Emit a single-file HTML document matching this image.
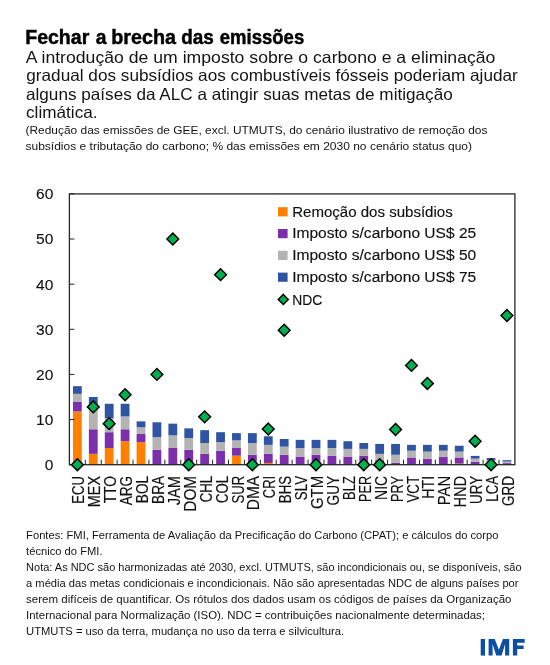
<!DOCTYPE html>
<html><head><meta charset="utf-8"><style>
html,body{margin:0;padding:0;background:#fff;width:550px;height:665px;overflow:hidden}
svg{display:block;font-family:"Liberation Sans", sans-serif;will-change:transform}
</style></head><body>
<svg width="550" height="665" viewBox="0 0 550 665">
<rect width="550" height="665" fill="#fff"/>
<rect x="72.96" y="411.44" width="8.8" height="53.26" fill="#FF8000"/>
<rect x="72.96" y="401.51" width="8.8" height="9.93" fill="#7B2FAA"/>
<rect x="72.96" y="393.84" width="8.8" height="7.67" fill="#B3B3B3"/>
<rect x="72.96" y="386.17" width="8.8" height="7.67" fill="#2F55A2"/>
<rect x="88.87" y="453.87" width="8.8" height="10.83" fill="#FF8000"/>
<rect x="88.87" y="429.27" width="8.8" height="24.60" fill="#7B2FAA"/>
<rect x="88.87" y="405.12" width="8.8" height="24.15" fill="#B3B3B3"/>
<rect x="88.87" y="397.00" width="8.8" height="8.12" fill="#2F55A2"/>
<rect x="104.78" y="448.00" width="8.8" height="16.70" fill="#FF8000"/>
<rect x="104.78" y="432.20" width="8.8" height="15.80" fill="#7B2FAA"/>
<rect x="104.78" y="418.21" width="8.8" height="13.99" fill="#B3B3B3"/>
<rect x="104.78" y="403.77" width="8.8" height="14.44" fill="#2F55A2"/>
<rect x="120.69" y="441.23" width="8.8" height="23.47" fill="#FF8000"/>
<rect x="120.69" y="429.27" width="8.8" height="11.96" fill="#7B2FAA"/>
<rect x="120.69" y="416.41" width="8.8" height="12.86" fill="#B3B3B3"/>
<rect x="120.69" y="403.77" width="8.8" height="12.64" fill="#2F55A2"/>
<rect x="136.60" y="442.13" width="8.8" height="22.57" fill="#FF8000"/>
<rect x="136.60" y="434.01" width="8.8" height="8.12" fill="#7B2FAA"/>
<rect x="136.60" y="427.24" width="8.8" height="6.77" fill="#B3B3B3"/>
<rect x="136.60" y="421.37" width="8.8" height="5.87" fill="#2F55A2"/>
<rect x="152.51" y="449.81" width="8.8" height="14.89" fill="#7B2FAA"/>
<rect x="152.51" y="437.17" width="8.8" height="12.64" fill="#B3B3B3"/>
<rect x="152.51" y="422.27" width="8.8" height="14.89" fill="#2F55A2"/>
<rect x="168.42" y="448.00" width="8.8" height="16.70" fill="#7B2FAA"/>
<rect x="168.42" y="435.36" width="8.8" height="12.64" fill="#B3B3B3"/>
<rect x="168.42" y="423.63" width="8.8" height="11.73" fill="#2F55A2"/>
<rect x="184.33" y="449.81" width="8.8" height="14.89" fill="#7B2FAA"/>
<rect x="184.33" y="438.07" width="8.8" height="11.73" fill="#B3B3B3"/>
<rect x="184.33" y="428.37" width="8.8" height="9.70" fill="#2F55A2"/>
<rect x="200.24" y="453.87" width="8.8" height="10.83" fill="#7B2FAA"/>
<rect x="200.24" y="443.04" width="8.8" height="10.83" fill="#B3B3B3"/>
<rect x="200.24" y="430.17" width="8.8" height="12.86" fill="#2F55A2"/>
<rect x="216.15" y="450.71" width="8.8" height="13.99" fill="#7B2FAA"/>
<rect x="216.15" y="442.13" width="8.8" height="8.58" fill="#B3B3B3"/>
<rect x="216.15" y="432.20" width="8.8" height="9.93" fill="#2F55A2"/>
<rect x="232.06" y="455.67" width="8.8" height="9.03" fill="#FF8000"/>
<rect x="232.06" y="448.00" width="8.8" height="7.67" fill="#7B2FAA"/>
<rect x="232.06" y="440.33" width="8.8" height="7.67" fill="#B3B3B3"/>
<rect x="232.06" y="433.11" width="8.8" height="7.22" fill="#2F55A2"/>
<rect x="247.97" y="454.77" width="8.8" height="9.93" fill="#7B2FAA"/>
<rect x="247.97" y="443.04" width="8.8" height="11.73" fill="#B3B3B3"/>
<rect x="247.97" y="433.11" width="8.8" height="9.93" fill="#2F55A2"/>
<rect x="263.88" y="462.89" width="8.8" height="1.81" fill="#FF8000"/>
<rect x="263.88" y="453.87" width="8.8" height="9.03" fill="#7B2FAA"/>
<rect x="263.88" y="444.84" width="8.8" height="9.03" fill="#B3B3B3"/>
<rect x="263.88" y="436.27" width="8.8" height="8.58" fill="#2F55A2"/>
<rect x="279.79" y="454.77" width="8.8" height="9.93" fill="#7B2FAA"/>
<rect x="279.79" y="446.65" width="8.8" height="8.12" fill="#B3B3B3"/>
<rect x="279.79" y="438.97" width="8.8" height="7.67" fill="#2F55A2"/>
<rect x="295.71" y="456.58" width="8.8" height="8.12" fill="#7B2FAA"/>
<rect x="295.71" y="448.00" width="8.8" height="8.58" fill="#B3B3B3"/>
<rect x="295.71" y="439.88" width="8.8" height="8.12" fill="#2F55A2"/>
<rect x="311.62" y="454.77" width="8.8" height="9.93" fill="#7B2FAA"/>
<rect x="311.62" y="448.00" width="8.8" height="6.77" fill="#B3B3B3"/>
<rect x="311.62" y="439.88" width="8.8" height="8.12" fill="#2F55A2"/>
<rect x="327.53" y="455.67" width="8.8" height="9.03" fill="#7B2FAA"/>
<rect x="327.53" y="448.00" width="8.8" height="7.67" fill="#B3B3B3"/>
<rect x="327.53" y="439.88" width="8.8" height="8.12" fill="#2F55A2"/>
<rect x="343.44" y="456.58" width="8.8" height="8.12" fill="#7B2FAA"/>
<rect x="343.44" y="448.90" width="8.8" height="7.67" fill="#B3B3B3"/>
<rect x="343.44" y="441.23" width="8.8" height="7.67" fill="#2F55A2"/>
<rect x="359.35" y="455.67" width="8.8" height="9.03" fill="#7B2FAA"/>
<rect x="359.35" y="448.90" width="8.8" height="6.77" fill="#B3B3B3"/>
<rect x="359.35" y="443.04" width="8.8" height="5.87" fill="#2F55A2"/>
<rect x="375.26" y="460.19" width="8.8" height="4.51" fill="#7B2FAA"/>
<rect x="375.26" y="453.87" width="8.8" height="6.32" fill="#B3B3B3"/>
<rect x="375.26" y="443.94" width="8.8" height="9.93" fill="#2F55A2"/>
<rect x="391.17" y="462.89" width="8.8" height="1.81" fill="#7B2FAA"/>
<rect x="391.17" y="454.77" width="8.8" height="8.12" fill="#B3B3B3"/>
<rect x="391.17" y="443.94" width="8.8" height="10.83" fill="#2F55A2"/>
<rect x="407.08" y="457.48" width="8.8" height="7.22" fill="#7B2FAA"/>
<rect x="407.08" y="450.71" width="8.8" height="6.77" fill="#B3B3B3"/>
<rect x="407.08" y="444.84" width="8.8" height="5.87" fill="#2F55A2"/>
<rect x="422.99" y="458.83" width="8.8" height="5.87" fill="#7B2FAA"/>
<rect x="422.99" y="451.61" width="8.8" height="7.22" fill="#B3B3B3"/>
<rect x="422.99" y="444.84" width="8.8" height="6.77" fill="#2F55A2"/>
<rect x="438.90" y="457.03" width="8.8" height="7.67" fill="#7B2FAA"/>
<rect x="438.90" y="450.71" width="8.8" height="6.32" fill="#B3B3B3"/>
<rect x="438.90" y="444.84" width="8.8" height="5.87" fill="#2F55A2"/>
<rect x="454.81" y="463.57" width="8.8" height="1.13" fill="#FF8000"/>
<rect x="454.81" y="457.48" width="8.8" height="6.09" fill="#7B2FAA"/>
<rect x="454.81" y="451.61" width="8.8" height="5.87" fill="#B3B3B3"/>
<rect x="454.81" y="445.74" width="8.8" height="5.87" fill="#2F55A2"/>
<rect x="470.72" y="461.77" width="8.8" height="2.93" fill="#7B2FAA"/>
<rect x="470.72" y="458.61" width="8.8" height="3.16" fill="#B3B3B3"/>
<rect x="470.72" y="455.90" width="8.8" height="2.71" fill="#2F55A2"/>
<rect x="486.63" y="463.12" width="8.8" height="1.58" fill="#7B2FAA"/>
<rect x="486.63" y="460.41" width="8.8" height="2.71" fill="#B3B3B3"/>
<rect x="486.63" y="458.02" width="8.8" height="2.39" fill="#2F55A2"/>
<rect x="502.54" y="463.12" width="8.8" height="1.58" fill="#7B2FAA"/>
<rect x="502.54" y="461.54" width="8.8" height="1.58" fill="#B3B3B3"/>
<rect x="502.54" y="460.19" width="8.8" height="1.35" fill="#2F55A2"/>
<rect x="69.4" y="193.9" width="445.50" height="270.80" fill="none" stroke="#262626" stroke-width="1.3"/>
<line x1="69.4" y1="464.70" x2="74.4" y2="464.70" stroke="#262626" stroke-width="1.0"/>
<text x="53.3" y="470.10" text-anchor="end" font-size="15.5" fill="#111" stroke="#111" stroke-width="0.12">0</text>
<line x1="69.4" y1="419.57" x2="74.4" y2="419.57" stroke="#262626" stroke-width="1.0"/>
<text x="53.3" y="424.97" text-anchor="end" font-size="15.5" fill="#111" stroke="#111" stroke-width="0.12">10</text>
<line x1="69.4" y1="374.43" x2="74.4" y2="374.43" stroke="#262626" stroke-width="1.0"/>
<text x="53.3" y="379.83" text-anchor="end" font-size="15.5" fill="#111" stroke="#111" stroke-width="0.12">20</text>
<line x1="69.4" y1="329.30" x2="74.4" y2="329.30" stroke="#262626" stroke-width="1.0"/>
<text x="53.3" y="334.70" text-anchor="end" font-size="15.5" fill="#111" stroke="#111" stroke-width="0.12">30</text>
<line x1="69.4" y1="284.17" x2="74.4" y2="284.17" stroke="#262626" stroke-width="1.0"/>
<text x="53.3" y="289.57" text-anchor="end" font-size="15.5" fill="#111" stroke="#111" stroke-width="0.12">40</text>
<line x1="69.4" y1="239.03" x2="74.4" y2="239.03" stroke="#262626" stroke-width="1.0"/>
<text x="53.3" y="244.43" text-anchor="end" font-size="15.5" fill="#111" stroke="#111" stroke-width="0.12">50</text>
<line x1="69.4" y1="193.90" x2="74.4" y2="193.90" stroke="#262626" stroke-width="1.0"/>
<text x="53.3" y="199.30" text-anchor="end" font-size="15.5" fill="#111" stroke="#111" stroke-width="0.12">60</text>
<line x1="85.31" y1="464.7" x2="85.31" y2="459.7" stroke="#262626" stroke-width="1.0"/>
<line x1="101.22" y1="464.7" x2="101.22" y2="459.7" stroke="#262626" stroke-width="1.0"/>
<line x1="117.13" y1="464.7" x2="117.13" y2="459.7" stroke="#262626" stroke-width="1.0"/>
<line x1="133.04" y1="464.7" x2="133.04" y2="459.7" stroke="#262626" stroke-width="1.0"/>
<line x1="148.95" y1="464.7" x2="148.95" y2="459.7" stroke="#262626" stroke-width="1.0"/>
<line x1="164.86" y1="464.7" x2="164.86" y2="459.7" stroke="#262626" stroke-width="1.0"/>
<line x1="180.78" y1="464.7" x2="180.78" y2="459.7" stroke="#262626" stroke-width="1.0"/>
<line x1="196.69" y1="464.7" x2="196.69" y2="459.7" stroke="#262626" stroke-width="1.0"/>
<line x1="212.60" y1="464.7" x2="212.60" y2="459.7" stroke="#262626" stroke-width="1.0"/>
<line x1="228.51" y1="464.7" x2="228.51" y2="459.7" stroke="#262626" stroke-width="1.0"/>
<line x1="244.42" y1="464.7" x2="244.42" y2="459.7" stroke="#262626" stroke-width="1.0"/>
<line x1="260.33" y1="464.7" x2="260.33" y2="459.7" stroke="#262626" stroke-width="1.0"/>
<line x1="276.24" y1="464.7" x2="276.24" y2="459.7" stroke="#262626" stroke-width="1.0"/>
<line x1="292.15" y1="464.7" x2="292.15" y2="459.7" stroke="#262626" stroke-width="1.0"/>
<line x1="308.06" y1="464.7" x2="308.06" y2="459.7" stroke="#262626" stroke-width="1.0"/>
<line x1="323.97" y1="464.7" x2="323.97" y2="459.7" stroke="#262626" stroke-width="1.0"/>
<line x1="339.88" y1="464.7" x2="339.88" y2="459.7" stroke="#262626" stroke-width="1.0"/>
<line x1="355.79" y1="464.7" x2="355.79" y2="459.7" stroke="#262626" stroke-width="1.0"/>
<line x1="371.70" y1="464.7" x2="371.70" y2="459.7" stroke="#262626" stroke-width="1.0"/>
<line x1="387.61" y1="464.7" x2="387.61" y2="459.7" stroke="#262626" stroke-width="1.0"/>
<line x1="403.52" y1="464.7" x2="403.52" y2="459.7" stroke="#262626" stroke-width="1.0"/>
<line x1="419.44" y1="464.7" x2="419.44" y2="459.7" stroke="#262626" stroke-width="1.0"/>
<line x1="435.35" y1="464.7" x2="435.35" y2="459.7" stroke="#262626" stroke-width="1.0"/>
<line x1="451.26" y1="464.7" x2="451.26" y2="459.7" stroke="#262626" stroke-width="1.0"/>
<line x1="467.17" y1="464.7" x2="467.17" y2="459.7" stroke="#262626" stroke-width="1.0"/>
<line x1="483.08" y1="464.7" x2="483.08" y2="459.7" stroke="#262626" stroke-width="1.0"/>
<line x1="498.99" y1="464.7" x2="498.99" y2="459.7" stroke="#262626" stroke-width="1.0"/>
<path d="M77.36 458.80L83.26 464.70L77.36 470.60L71.46 464.70Z" fill="#00B050" stroke="#000" stroke-width="1.45" stroke-linejoin="miter"/>
<path d="M93.27 401.03L99.17 406.93L93.27 412.83L87.37 406.93Z" fill="#00B050" stroke="#000" stroke-width="1.45" stroke-linejoin="miter"/>
<path d="M109.18 417.73L115.08 423.63L109.18 429.53L103.28 423.63Z" fill="#00B050" stroke="#000" stroke-width="1.45" stroke-linejoin="miter"/>
<path d="M125.09 388.84L130.99 394.74L125.09 400.64L119.19 394.74Z" fill="#00B050" stroke="#000" stroke-width="1.45" stroke-linejoin="miter"/>
<path d="M156.91 368.53L162.81 374.43L156.91 380.33L151.01 374.43Z" fill="#00B050" stroke="#000" stroke-width="1.45" stroke-linejoin="miter"/>
<path d="M172.82 233.13L178.72 239.03L172.82 244.93L166.92 239.03Z" fill="#00B050" stroke="#000" stroke-width="1.45" stroke-linejoin="miter"/>
<path d="M188.73 458.80L194.63 464.70L188.73 470.60L182.83 464.70Z" fill="#00B050" stroke="#000" stroke-width="1.45" stroke-linejoin="miter"/>
<path d="M204.64 410.96L210.54 416.86L204.64 422.76L198.74 416.86Z" fill="#00B050" stroke="#000" stroke-width="1.45" stroke-linejoin="miter"/>
<path d="M220.55 268.79L226.45 274.69L220.55 280.59L214.65 274.69Z" fill="#00B050" stroke="#000" stroke-width="1.45" stroke-linejoin="miter"/>
<path d="M252.37 458.80L258.27 464.70L252.37 470.60L246.47 464.70Z" fill="#00B050" stroke="#000" stroke-width="1.45" stroke-linejoin="miter"/>
<path d="M268.28 423.14L274.18 429.04L268.28 434.94L262.38 429.04Z" fill="#00B050" stroke="#000" stroke-width="1.45" stroke-linejoin="miter"/>
<path d="M284.19 324.30L290.09 330.20L284.19 336.10L278.29 330.20Z" fill="#00B050" stroke="#000" stroke-width="1.45" stroke-linejoin="miter"/>
<path d="M316.02 458.80L321.92 464.70L316.02 470.60L310.12 464.70Z" fill="#00B050" stroke="#000" stroke-width="1.45" stroke-linejoin="miter"/>
<path d="M363.75 458.80L369.65 464.70L363.75 470.60L357.85 464.70Z" fill="#00B050" stroke="#000" stroke-width="1.45" stroke-linejoin="miter"/>
<path d="M379.66 458.80L385.56 464.70L379.66 470.60L373.76 464.70Z" fill="#00B050" stroke="#000" stroke-width="1.45" stroke-linejoin="miter"/>
<path d="M395.57 423.60L401.47 429.50L395.57 435.40L389.67 429.50Z" fill="#00B050" stroke="#000" stroke-width="1.45" stroke-linejoin="miter"/>
<path d="M411.48 359.51L417.38 365.41L411.48 371.31L405.58 365.41Z" fill="#00B050" stroke="#000" stroke-width="1.45" stroke-linejoin="miter"/>
<path d="M427.39 377.56L433.29 383.46L427.39 389.36L421.49 383.46Z" fill="#00B050" stroke="#000" stroke-width="1.45" stroke-linejoin="miter"/>
<path d="M475.12 435.33L481.02 441.23L475.12 447.13L469.22 441.23Z" fill="#00B050" stroke="#000" stroke-width="1.45" stroke-linejoin="miter"/>
<path d="M491.03 458.80L496.93 464.70L491.03 470.60L485.13 464.70Z" fill="#00B050" stroke="#000" stroke-width="1.45" stroke-linejoin="miter"/>
<path d="M506.94 309.63L512.84 315.53L506.94 321.43L501.04 315.53Z" fill="#00B050" stroke="#000" stroke-width="1.45" stroke-linejoin="miter"/>
<text transform="translate(84.46,475.9) rotate(-90)" text-anchor="end" font-size="16" fill="#111" stroke="#111" stroke-width="0.15" textLength="27.94" lengthAdjust="spacingAndGlyphs">ECU</text>
<text transform="translate(100.37,475.9) rotate(-90)" text-anchor="end" font-size="16" fill="#111" stroke="#111" stroke-width="0.15" textLength="31.28" lengthAdjust="spacingAndGlyphs">MEX</text>
<text transform="translate(116.28,475.9) rotate(-90)" text-anchor="end" font-size="16" fill="#111" stroke="#111" stroke-width="0.15" textLength="27.48" lengthAdjust="spacingAndGlyphs">TTO</text>
<text transform="translate(132.19,475.9) rotate(-90)" text-anchor="end" font-size="16" fill="#111" stroke="#111" stroke-width="0.15" textLength="29.45" lengthAdjust="spacingAndGlyphs">ARG</text>
<text transform="translate(148.10,475.9) rotate(-90)" text-anchor="end" font-size="16" fill="#111" stroke="#111" stroke-width="0.15" textLength="27.32" lengthAdjust="spacingAndGlyphs">BOL</text>
<text transform="translate(164.01,475.9) rotate(-90)" text-anchor="end" font-size="16" fill="#111" stroke="#111" stroke-width="0.15" textLength="27.99" lengthAdjust="spacingAndGlyphs">BRA</text>
<text transform="translate(179.92,475.9) rotate(-90)" text-anchor="end" font-size="16" fill="#111" stroke="#111" stroke-width="0.15" textLength="29.45" lengthAdjust="spacingAndGlyphs">JAM</text>
<text transform="translate(195.83,475.9) rotate(-90)" text-anchor="end" font-size="16" fill="#111" stroke="#111" stroke-width="0.15" textLength="35.82" lengthAdjust="spacingAndGlyphs">DOM</text>
<text transform="translate(211.74,475.9) rotate(-90)" text-anchor="end" font-size="16" fill="#111" stroke="#111" stroke-width="0.15" textLength="26.48" lengthAdjust="spacingAndGlyphs">CHL</text>
<text transform="translate(227.65,475.9) rotate(-90)" text-anchor="end" font-size="16" fill="#111" stroke="#111" stroke-width="0.15" textLength="27.13" lengthAdjust="spacingAndGlyphs">COL</text>
<text transform="translate(243.56,475.9) rotate(-90)" text-anchor="end" font-size="16" fill="#111" stroke="#111" stroke-width="0.15" textLength="27.62" lengthAdjust="spacingAndGlyphs">SUR</text>
<text transform="translate(259.47,475.9) rotate(-90)" text-anchor="end" font-size="16" fill="#111" stroke="#111" stroke-width="0.15" textLength="34.42" lengthAdjust="spacingAndGlyphs">DMA</text>
<text transform="translate(275.38,475.9) rotate(-90)" text-anchor="end" font-size="16" fill="#111" stroke="#111" stroke-width="0.15" textLength="22.31" lengthAdjust="spacingAndGlyphs">CRI</text>
<text transform="translate(291.29,475.9) rotate(-90)" text-anchor="end" font-size="16" fill="#111" stroke="#111" stroke-width="0.15" textLength="27.32" lengthAdjust="spacingAndGlyphs">BHS</text>
<text transform="translate(307.21,475.9) rotate(-90)" text-anchor="end" font-size="16" fill="#111" stroke="#111" stroke-width="0.15" textLength="24.29" lengthAdjust="spacingAndGlyphs">SLV</text>
<text transform="translate(323.12,475.9) rotate(-90)" text-anchor="end" font-size="16" fill="#111" stroke="#111" stroke-width="0.15" textLength="33.15" lengthAdjust="spacingAndGlyphs">GTM</text>
<text transform="translate(339.03,475.9) rotate(-90)" text-anchor="end" font-size="16" fill="#111" stroke="#111" stroke-width="0.15" textLength="29.57" lengthAdjust="spacingAndGlyphs">GUY</text>
<text transform="translate(354.94,475.9) rotate(-90)" text-anchor="end" font-size="16" fill="#111" stroke="#111" stroke-width="0.15" textLength="24.06" lengthAdjust="spacingAndGlyphs">BLZ</text>
<text transform="translate(370.85,475.9) rotate(-90)" text-anchor="end" font-size="16" fill="#111" stroke="#111" stroke-width="0.15" textLength="26.01" lengthAdjust="spacingAndGlyphs">PER</text>
<text transform="translate(386.76,475.9) rotate(-90)" text-anchor="end" font-size="16" fill="#111" stroke="#111" stroke-width="0.15" textLength="24.04" lengthAdjust="spacingAndGlyphs">NIC</text>
<text transform="translate(402.67,475.9) rotate(-90)" text-anchor="end" font-size="16" fill="#111" stroke="#111" stroke-width="0.15" textLength="25.99" lengthAdjust="spacingAndGlyphs">PRY</text>
<text transform="translate(418.58,475.9) rotate(-90)" text-anchor="end" font-size="16" fill="#111" stroke="#111" stroke-width="0.15" textLength="26.66" lengthAdjust="spacingAndGlyphs">VCT</text>
<text transform="translate(434.49,475.9) rotate(-90)" text-anchor="end" font-size="16" fill="#111" stroke="#111" stroke-width="0.15" textLength="22.88" lengthAdjust="spacingAndGlyphs">HTI</text>
<text transform="translate(450.40,475.9) rotate(-90)" text-anchor="end" font-size="16" fill="#111" stroke="#111" stroke-width="0.15" textLength="29.27" lengthAdjust="spacingAndGlyphs">PAN</text>
<text transform="translate(466.31,475.9) rotate(-90)" text-anchor="end" font-size="16" fill="#111" stroke="#111" stroke-width="0.15" textLength="31.65" lengthAdjust="spacingAndGlyphs">HND</text>
<text transform="translate(482.22,475.9) rotate(-90)" text-anchor="end" font-size="16" fill="#111" stroke="#111" stroke-width="0.15" textLength="28.09" lengthAdjust="spacingAndGlyphs">URY</text>
<text transform="translate(498.13,475.9) rotate(-90)" text-anchor="end" font-size="16" fill="#111" stroke="#111" stroke-width="0.15" textLength="25.74" lengthAdjust="spacingAndGlyphs">LCA</text>
<text transform="translate(514.04,475.9) rotate(-90)" text-anchor="end" font-size="16" fill="#111" stroke="#111" stroke-width="0.15" textLength="30.06" lengthAdjust="spacingAndGlyphs">GRD</text>
<rect x="278" y="207.20" width="9.6" height="9.2" fill="#FF8000"/>
<text x="292.2" y="216.50" font-size="15.3" fill="#111" stroke="#111" stroke-width="0.15" textLength="160.5" lengthAdjust="spacingAndGlyphs">Remoção dos subsídios</text>
<rect x="278" y="229.00" width="9.6" height="9.2" fill="#7B2FAA"/>
<text x="292.2" y="238.30" font-size="15.3" fill="#111" stroke="#111" stroke-width="0.15" textLength="184.0" lengthAdjust="spacingAndGlyphs">Imposto s/carbono US$ 25</text>
<rect x="278" y="250.80" width="9.6" height="9.2" fill="#B3B3B3"/>
<text x="292.2" y="260.10" font-size="15.3" fill="#111" stroke="#111" stroke-width="0.15" textLength="184.0" lengthAdjust="spacingAndGlyphs">Imposto s/carbono US$ 50</text>
<rect x="278" y="272.60" width="9.6" height="9.2" fill="#2F55A2"/>
<text x="292.2" y="281.90" font-size="15.3" fill="#111" stroke="#111" stroke-width="0.15" textLength="184.0" lengthAdjust="spacingAndGlyphs">Imposto s/carbono US$ 75</text>
<path d="M283.30 294.40L288.30 299.40L283.30 304.40L278.30 299.40Z" fill="#00B050" stroke="#000" stroke-width="1.45" stroke-linejoin="miter"/>
<text x="292.2" y="304.5" font-size="15.3" fill="#111" stroke="#111" stroke-width="0.15" textLength="30.0" lengthAdjust="spacingAndGlyphs">NDC</text>
<text x="25.8" y="62.6" font-size="16.5" font-weight="normal" fill="#141414" textLength="469.6" lengthAdjust="spacingAndGlyphs">A introdução de um imposto sobre o carbono e a eliminação</text>
<text x="26.3" y="81.2" font-size="16.5" font-weight="normal" fill="#141414" textLength="491.5" lengthAdjust="spacingAndGlyphs">gradual dos subsídios aos combustíveis fósseis poderiam ajudar</text>
<text x="26.0" y="99.7" font-size="16.5" font-weight="normal" fill="#141414" textLength="426.7" lengthAdjust="spacingAndGlyphs">alguns países da ALC a atingir suas metas de mitigação</text>
<text x="26.0" y="118.3" font-size="16.5" font-weight="normal" fill="#141414" textLength="71.6" lengthAdjust="spacingAndGlyphs">climática.</text>
<text x="25.5" y="134.4" font-size="10.7" font-weight="normal" fill="#141414" textLength="461.9" lengthAdjust="spacingAndGlyphs">(Redução das emissões de GEE, excl. UTMUTS, do cenário ilustrativo de remoção dos</text>
<text x="25.5" y="150.3" font-size="10.7" font-weight="normal" fill="#141414" textLength="446.5" lengthAdjust="spacingAndGlyphs">subsídios e tributação do carbono; % das emissões em 2030 no cenário status quo)</text>
<text x="26.1" y="538.9" font-size="11" font-weight="normal" fill="#141414" textLength="472.4" lengthAdjust="spacingAndGlyphs">Fontes: FMI, Ferramenta de Avaliação da Precificação do Carbono (CPAT); e cálculos do corpo</text>
<text x="26.1" y="554.8" font-size="11" font-weight="normal" fill="#141414" textLength="76.4" lengthAdjust="spacingAndGlyphs">técnico do FMI.</text>
<text x="26.1" y="570.8" font-size="11" font-weight="normal" fill="#141414" textLength="495.4" lengthAdjust="spacingAndGlyphs">Nota: As NDC são harmonizadas até 2030, excl. UTMUTS, são incondicionais ou, se disponíveis, são</text>
<text x="26.1" y="586.7" font-size="11" font-weight="normal" fill="#141414" textLength="492.4" lengthAdjust="spacingAndGlyphs">a média das metas condicionais e incondicionais. Não são apresentadas NDC de alguns países por</text>
<text x="26.1" y="602.7" font-size="11" font-weight="normal" fill="#141414" textLength="485.4" lengthAdjust="spacingAndGlyphs">serem difíceis de quantificar. Os rótulos dos dados usam os códigos de países da Organização</text>
<text x="26.1" y="618.8" font-size="11" font-weight="normal" fill="#141414" textLength="458.9" lengthAdjust="spacingAndGlyphs">Internacional para Normalização (ISO). NDC = contribuições nacionalmente determinadas;</text>
<text x="26.1" y="635.0" font-size="11" font-weight="normal" fill="#141414" textLength="317.9" lengthAdjust="spacingAndGlyphs">UTMUTS = uso da terra, mudança no uso da terra e silvicultura.</text>
<text x="25.20" y="43.8" font-size="19.8" font-weight="bold" fill="#000" stroke="#000" stroke-width="0.45" textLength="64.10" lengthAdjust="spacingAndGlyphs">Fechar</text>
<text x="95.70" y="43.8" font-size="19.8" font-weight="bold" fill="#000" stroke="#000" stroke-width="0.45" textLength="10.70" lengthAdjust="spacingAndGlyphs">a</text>
<text x="111.20" y="43.8" font-size="19.8" font-weight="bold" fill="#000" stroke="#000" stroke-width="0.45" textLength="64.80" lengthAdjust="spacingAndGlyphs">brecha</text>
<text x="181.30" y="43.8" font-size="19.8" font-weight="bold" fill="#000" stroke="#000" stroke-width="0.45" textLength="32.60" lengthAdjust="spacingAndGlyphs">das</text>
<text x="219.80" y="43.8" font-size="19.8" font-weight="bold" fill="#000" stroke="#000" stroke-width="0.45" textLength="84.40" lengthAdjust="spacingAndGlyphs">emissões</text>
<g fill="#0B4EA2"><path d="M480.7 639.0H485.0V655.6H480.7Z"/><path d="M488.6 655.6V639.0H494.7L498.9 649.7L503.0 639.0H509.2V655.6H505.1V644.0L501.6 655.6H496.2L492.6 644.0V655.6Z"/><path d="M512.9 639.0H524.7V642.8H517.2V645.4H523.6V649.1H517.2V655.6H512.9Z"/></g>
</svg>
</body></html>
